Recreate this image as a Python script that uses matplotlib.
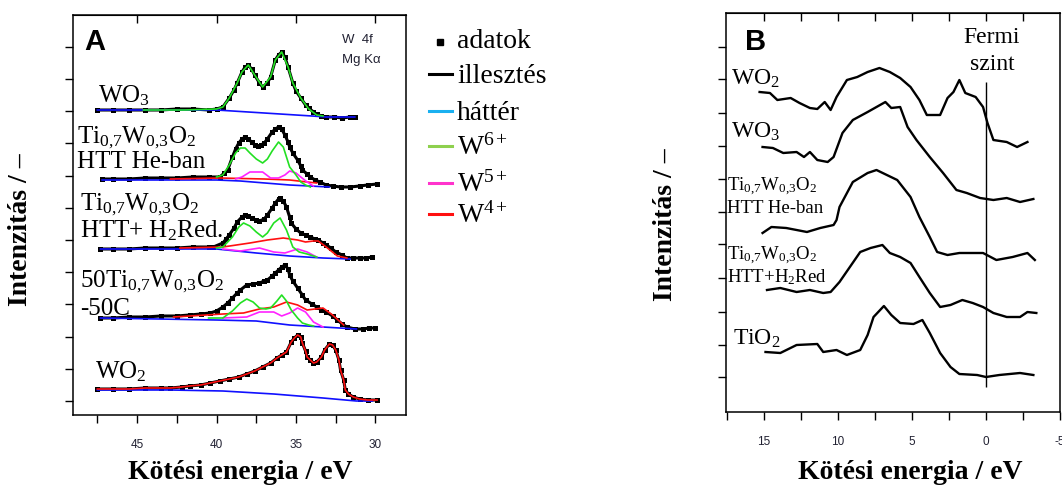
import matplotlib.pyplot as plt

plt.rcParams['font.family'] = 'Liberation Serif'
plt.rcParams['mathtext.fontset'] = 'custom'
plt.rcParams['mathtext.rm'] = 'Liberation Serif'
plt.rcParams['mathtext.it'] = 'Liberation Serif:italic'
plt.rcParams['mathtext.bf'] = 'Liberation Serif:bold'
plt.rcParams['axes.unicode_minus'] = False

# ---------------- panel A: W 4f XPS (binding energy / eV, intensity a.u.)
wo3_e = [47.5, 46.5, 45.5, 44.5, 43.5, 42.5, 41.5, 40.5, 40.0, 39.6, 39.2, 38.9, 38.7, 38.4,
         38.2, 38.0, 37.8, 37.6, 37.3, 37.1, 36.8, 36.6, 36.3, 36.1, 35.9, 35.7, 35.5, 35.2,
         35.0, 34.7, 34.4, 34.2, 33.9, 33.7, 33.4, 33.1, 32.6, 32.1, 31.6, 31.3]
wo3_h = [305, 305, 305, 305, 305, 306, 306, 305, 306, 308, 317, 325, 332, 343,
         348, 350, 346, 340, 332, 328, 332, 338, 355, 360, 363, 358, 348, 332,
         324, 317, 310, 307, 303, 301, 299, 298, 298, 297, 298, 298]
wo3_bg_e = [47.5, 40.0, 38.0, 36.0, 34.0, 33.1, 31.3]
wo3_bg_h = [305, 305, 303, 301, 299, 298, 298]
wo3_w6_e = [44.6, 42.0, 40.0, 39.6, 39.2, 38.7, 38.4, 38.0, 37.6, 37.1, 36.6, 36.3, 35.9,
            35.5, 35.2, 34.7, 34.2, 33.7, 33.3]
wo3_w6_h = [305, 305, 306, 308, 317, 332, 343, 350, 340, 328, 338, 355, 363,
            348, 332, 317, 306, 300, 299]

he_e = [47.2, 46.5, 45.5, 44.5, 43.5, 42.5, 41.5, 40.5, 39.8, 39.5, 39.3, 39.0, 38.8, 38.6,
        38.4, 38.2, 38.0, 37.8, 37.6, 37.4, 37.2, 37.0, 36.8, 36.5, 36.3, 36.1, 35.9, 35.7,
        35.5, 35.4, 35.2, 34.9, 34.7, 34.6, 34.3, 34.1, 33.8, 33.5, 33.1, 32.7, 32.2, 31.6,
        31.0, 30.5, 29.9]
he_h = [236, 236, 236, 237, 237, 237, 238, 238, 238, 242, 245, 258, 266, 272,
        276, 278, 276, 273, 270, 269, 270, 272, 276, 283, 286, 288, 286, 280,
        273, 268, 262, 255, 249, 245, 241, 238, 235, 233, 230, 229, 228, 228,
        229, 230, 231]
he_bg_e = [47.2, 40.0, 38.5, 35.4, 32.9]
he_bg_h = [235, 235, 234, 230, 228]
he_w6_e = [40.0, 39.6, 39.2, 38.8, 38.5, 38.2, 37.9, 37.5, 37.1, 36.8, 36.5, 36.1, 35.8,
           35.4, 35.0, 34.7, 34.4, 34.1]
he_w6_h = [238, 240, 250, 262, 267, 267, 262, 256, 252, 256, 264, 273, 268,
           248, 240, 233, 230, 228]
he_w5_e = [38.8, 38.4, 37.9, 37.1, 36.6, 36.1, 35.7, 35.4, 35.0, 34.7, 34.3, 33.9]
he_w5_h = [236, 238, 243, 243, 237, 237, 240, 244, 242, 238, 233, 229]
he_w4_e = [42.9, 39.8, 37.0, 35.4, 34.3, 33.7]
he_w4_h = [236, 237, 236, 235, 233, 232]

red_e = [47.3, 46.5, 45.5, 44.5, 43.5, 42.5, 41.5, 40.5, 40.2, 39.6, 39.4, 39.2, 38.9, 38.7,
         38.4, 38.2, 38.0, 37.8, 37.5, 37.3, 37.0, 36.8, 36.5, 36.3, 36.1, 36.0, 35.8, 35.6,
         35.4, 35.3, 35.0, 34.7, 34.4, 34.1, 33.8, 33.6, 33.3, 33.1, 32.8, 32.5, 32.1, 31.8,
         31.4, 31.0, 30.6, 30.2]
red_h = [166, 166, 166, 167, 167, 167, 168, 168, 168, 172, 176, 180, 187, 193,
         198, 200, 199, 197, 195, 194, 196, 200, 207, 212, 216, 217, 214, 208,
         198, 192, 186, 182, 180, 178, 176, 175, 172, 170, 167, 163, 160, 157,
         157, 157, 157, 158]
red_bg_e = [47.3, 40.0, 37.5, 35.4, 33.3, 31.6]
red_bg_h = [166, 166, 162, 159, 157, 156]
red_w6_e = [40.0, 39.6, 39.0, 38.6, 38.3, 37.9, 37.5, 37.1, 36.8, 36.4, 36.0, 35.6, 35.2,
            34.8, 34.3, 33.7]
red_w6_h = [167, 168, 178, 188, 192, 189, 183, 178, 182, 192, 197, 185, 168,
            163, 161, 158]
red_w5_e = [39.6, 38.5, 37.3, 36.4, 35.7, 34.9, 34.3, 33.7]
red_w5_h = [166, 164, 167, 163, 162, 166, 163, 158]
red_w4_e = [42.3, 39.6, 37.9, 36.8, 35.8, 34.9, 34.4, 33.9, 33.6, 33.1, 32.4, 31.8]
red_w4_h = [167, 168, 172, 175, 177, 175, 173, 174, 174, 168, 159, 157]

c50_e = [47.3, 46.5, 45.5, 44.5, 43.5, 42.5, 41.7, 41.0, 40.4, 40.0, 39.6, 39.3, 39.0, 38.7,
         38.5, 38.1, 37.7, 37.3, 37.0, 36.8, 36.5, 36.3, 36.1, 35.9, 35.7, 35.5, 35.4, 35.2,
         34.9, 34.6, 34.4, 34.0, 33.7, 33.4, 33.1, 32.7, 32.4, 32.1, 31.8, 31.3, 30.8, 30.4,
         30.0]
c50_h = [97, 97, 98, 98, 99, 99, 100, 101, 102, 104, 108, 112, 117, 122,
         125, 130, 131, 132, 134, 135, 139, 142, 145, 148, 150, 146, 140, 134,
         127, 120, 115, 111, 108, 105, 103, 99, 95, 91, 88, 86, 86, 87,
         87]
c50_bg_e = [47.3, 40.0, 37.5, 35.4, 33.3, 31.2]
c50_bg_h = [97, 95, 94, 90, 88, 86]
c50_w6_e = [40.5, 39.6, 39.0, 38.5, 38.1, 37.7, 37.3, 36.9, 36.6, 36.2, 35.9, 35.6, 35.3,
            34.9, 34.6, 34.2, 33.9]
c50_w6_h = [97, 97, 104, 112, 116, 113, 107, 106, 107, 114, 120, 114, 105,
            97, 92, 90, 89]
c50_w5_e = [39.6, 38.1, 37.3, 36.4, 35.9, 35.4, 34.9, 34.4, 33.9, 33.3]
c50_w5_h = [97, 98, 103, 103, 99, 102, 107, 103, 93, 88]
c50_w4_e = [42.7, 39.6, 38.3, 37.3, 36.4, 35.6, 34.9, 34.3, 33.8, 33.3, 32.7, 32.0]
c50_w4_h = [98, 101, 102, 106, 108, 113, 110, 105, 106, 107, 100, 90]

wo2_e = [47.5, 46.5, 45.5, 44.5, 43.5, 42.9, 42.2, 41.7, 41.0, 40.4, 39.8, 39.2, 38.6, 38.1,
         37.6, 37.1, 36.6, 36.2, 35.9, 35.6, 35.3, 35.1, 34.9, 34.7, 34.6, 34.4, 34.3, 34.1,
         33.9, 33.7, 33.4, 33.2, 32.9, 32.7, 32.5, 32.3, 32.2, 32.0, 31.9, 31.7, 31.4, 31.0,
         30.5, 29.9]
wo2_h = [26, 26, 26, 27, 27, 27, 28, 29, 30, 32, 34, 36, 38, 41,
         44, 48, 52, 57, 60, 63, 73, 77, 80, 78, 72, 64, 58, 55,
         52, 53, 58, 65, 71, 70, 65, 55, 45, 35, 25, 21, 18, 16,
         15, 15]
wo2_bg_e = [47.5, 42.9, 39.6, 36.4, 33.3, 31.2, 30.2]
wo2_bg_h = [25, 25, 24, 21, 17, 14, 14]

# ---------------- panel B: valence band spectra
b_wo2_e = [15.3, 14.6, 14.1, 13.2, 12.6, 11.9, 11.4, 10.9, 10.5, 10.1, 9.4, 8.7, 8.0, 7.2,
           6.5, 5.8, 5.1, 4.5, 4.0, 3.1, 2.6, 2.2, 1.8, 1.4, 0.7, 0.2, -0.1, -0.5, -1.4,
           -2.1, -2.8]
b_wo2_h = [320, 319, 312, 314, 309, 304, 303, 310, 302, 315, 332, 335, 340, 344,
           340, 334, 325, 312, 297, 297, 314, 320, 332, 319, 315, 305, 289, 272, 270,
           265, 270]
b_wo3_e = [15.1, 14.4, 13.7, 12.8, 12.3, 11.9, 11.4, 10.7, 10.3, 9.7, 9.0, 8.0, 7.4, 6.8,
           6.4, 5.8, 5.3, 4.7, 3.8, 2.9, 2.0, 1.3, 0.4, -0.5, -1.4, -2.3, -3.2]
b_wo3_h = [265, 264, 259, 260, 255, 260, 252, 250, 255, 279, 292, 300, 305, 310,
           304, 305, 285, 272, 255, 239, 222, 219, 214, 212, 214, 210, 213]
b_he_e = [15.1, 14.5, 13.5, 12.1, 11.2, 10.3, 10.1, 9.9, 9.0, 8.0, 7.4, 6.7, 6.0, 5.1,
          4.5, 3.8, 3.3, 2.6, 1.8, 0.2, -0.7, -1.8, -2.8, -3.3]
b_he_h = [179, 185, 184, 180, 184, 187, 192, 205, 230, 239, 242, 237, 232, 215,
          195, 175, 160, 157, 159, 159, 152, 155, 159, 152]
b_h2_e = [14.8, 13.9, 12.8, 11.9, 11.0, 10.5, 9.9, 9.2, 8.5, 7.8, 7.0, 6.5, 5.8, 5.1,
          4.5, 3.8, 3.1, 2.4, 1.6, 0.9, 0.2, -0.5, -1.4, -2.3, -2.8, -3.4]
b_h2_h = [122, 124, 120, 122, 119, 120, 130, 145, 160, 164, 167, 159, 155, 149,
          135, 119, 105, 107, 112, 109, 105, 99, 95, 95, 100, 99]
b_tio2_e = [14.9, 13.9, 12.8, 11.4, 11.0, 10.1, 9.4, 8.5, 8.0, 7.6, 6.9, 6.4, 5.8, 4.9,
            4.3, 3.8, 3.1, 2.4, 1.8, 0.6, 0.0, -0.9, -2.3, -3.2]
b_tio2_h = [60, 59, 67, 68, 60, 62, 57, 62, 77, 95, 106, 97, 89, 88,
            92, 79, 59, 45, 38, 37, 35, 37, 39, 37]
fermi_e = 0.0
fermi_span = [25, 330]

W, H = 1062, 487


def fx(x):
    return x / W


def fy(y):
    return 1 - y / H


fig = plt.figure(figsize=(10.62, 4.87), dpi=100)
axA = fig.add_axes([fx(73), fy(415), (406 - 73) / W, 400 / H])
axB = fig.add_axes([fx(726), fy(412), (1060 - 726) / W, 399 / H])

BLUE = '#1010ff'
GREEN = '#22e022'
MAG = '#ff22ff'
RED = '#ff1010'


def data(ax, e, h):
    ax.plot(e, h, color='black', lw=2.2, marker='s', ms=3.6, mew=0, zorder=3)


def comp(ax, e, h, c):
    ax.plot(e, h, color=c, lw=1.2, zorder=4)


data(axA, wo3_e, wo3_h)
comp(axA, wo3_bg_e, wo3_bg_h, BLUE)
comp(axA, wo3_w6_e, wo3_w6_h, GREEN)

data(axA, he_e, he_h)
comp(axA, he_bg_e, he_bg_h, BLUE)
comp(axA, he_w4_e, he_w4_h, RED)
comp(axA, he_w5_e, he_w5_h, MAG)
comp(axA, he_w6_e, he_w6_h, GREEN)

data(axA, red_e, red_h)
comp(axA, red_bg_e, red_bg_h, BLUE)
comp(axA, red_w4_e, red_w4_h, RED)
comp(axA, red_w5_e, red_w5_h, MAG)
comp(axA, red_w6_e, red_w6_h, GREEN)

data(axA, c50_e, c50_h)
comp(axA, c50_bg_e, c50_bg_h, BLUE)
comp(axA, c50_w4_e, c50_w4_h, RED)
comp(axA, c50_w5_e, c50_w5_h, MAG)
comp(axA, c50_w6_e, c50_w6_h, GREEN)

data(axA, wo2_e, wo2_h)
comp(axA, wo2_bg_e, wo2_bg_h, BLUE)
comp(axA, wo2_e, wo2_h, RED)

for e, h in [(b_wo2_e, b_wo2_h), (b_wo3_e, b_wo3_h), (b_he_e, b_he_h),
             (b_h2_e, b_h2_h), (b_tio2_e, b_tio2_h)]:
    axB.plot(e, h, color='black', lw=1.7)
axB.vlines(fermi_e, fermi_span[0], fermi_span[1], color='black', lw=1)

# axes styling
axA.set_xlim(49.03, 28.08)
axA.set_ylim(0, 400)
axB.set_xlim(17.57, -5.0)
axB.set_ylim(0, 399)

axA.set_xticks([45, 40, 35, 30])
axA.set_xticks([47.5, 42.5, 37.5, 32.5], minor=True)
axA.set_yticks([14, 46, 78, 111, 143, 175, 207, 239, 272, 304, 336, 368])
axB.set_xticks([15, 10, 5, 0, -5])
axB.set_xticks([17.5, 12.5, 7.5, 2.5, -2.5], minor=True)
axB.set_yticks([35, 67, 100, 134, 168, 200, 233, 266, 299, 333, 365])

for ax, top_ticks in [(axA, [45, 40, 35, 30]),
                      (axB, [15, 12.5, 10, 7.5, 5, 2.5, 0, -2.5])]:
    ax.set_yticklabels([])
    ax.tick_params(axis='x', which='both', direction='out', length=6, width=1,
                   pad=11, labelsize=8.5, labelcolor='#222233')
    ax.tick_params(axis='y', which='both', direction='out', length=6, width=1)
    for lab in ax.get_xticklabels():
        lab.set_family('Liberation Sans')
    for s in ax.spines.values():
        s.set_linewidth(1.1)
    sec = ax.secondary_xaxis('top')
    sec.set_xticks(top_ticks)
    sec.set_xticklabels([])
    sec.tick_params(direction='in', length=6, width=1)

# labels panel A
TIW = 'Ti$_{0{,}7}$W$_{0{,}3}$O$_2$'
axA.text(47.45, 313, 'WO$_3$', fontsize=18)
axA.text(48.77, 272, TIW, fontsize=18)
axA.text(48.77, 247, 'HTT He-ban', fontsize=18)
axA.text(48.58, 205, TIW, fontsize=18)
axA.text(48.58, 178, 'HTT+ H$_2$Red.', fontsize=18)
axA.text(48.58, 128, '50' + TIW, fontsize=18)
axA.text(48.58, 100, '-50C', fontsize=18)
axA.text(47.64, 37, 'WO$_2$', fontsize=18)
fig.text(fx(95), fy(42), 'A', fontsize=21, fontweight='bold', family='Liberation Sans',
         ha='center', va='center')
fig.text(fx(342), fy(43), 'W  4f', fontsize=9.5, family='Liberation Sans', color='#222233')
fig.text(fx(342), fy(63), 'Mg K\u03b1', fontsize=9.5, family='Liberation Sans', color='#222233')

# labels panel B
axB.text(17.2, 327, 'WO$_2$', fontsize=17)
axB.text(17.2, 274, 'WO$_3$', fontsize=17)
axB.text(17.5, 221, TIW, fontsize=13.5)
axB.text(17.5, 199, 'HTT He-ban', fontsize=13.5)
axB.text(17.5, 152, TIW, fontsize=13.5)
axB.text(17.5, 130, 'HTT+H$_2$Red', fontsize=13.5)
axB.text(17.1, 67, 'TiO$_2$', fontsize=17)
fig.text(fx(992), fy(43), 'Fermi', fontsize=17, ha='center')
fig.text(fx(992), fy(70), 'szint', fontsize=17, ha='center')
fig.text(fx(756), fy(42), 'B', fontsize=21, fontweight='bold', family='Liberation Sans',
         ha='center', va='center')

# legend (between the panels)
legend_rows = [('adatok', 'black', 48), ('illesztés', 'black', 83),
               ('háttér', '#1ab0f0', 120), ('W$^{6+}$', '#8ed04e', 155),
               ('W$^{5+}$', '#ff33cc', 192), ('W$^{4+}$', '#ff1010', 223)]
for i, (txt, col, base) in enumerate(legend_rows):
    if i == 0:
        fig.lines.append(plt.Line2D([fx(440)], [fy(base - 6)], marker='s', ms=4.5,
                                    color='black', lw=0, transform=fig.transFigure))
    else:
        fig.lines.append(plt.Line2D([fx(429), fx(452)], [fy(base - 9), fy(base - 9)],
                                    color=col, lw=2.2, transform=fig.transFigure))
    fig.text(fx(457), fy(base), txt, fontsize=20)

# axis titles
for x, y in [(21, 230), (666, 225)]:
    fig.text(fx(x), fy(y), 'Intenzitás / –', rotation=90, ha='center', va='center',
             fontsize=20, fontweight='bold')
fig.text(fx(240), fy(479), 'Kötési energia / eV', ha='center', fontsize=20, fontweight='bold')
fig.text(fx(910), fy(479), 'Kötési energia / eV', ha='center', fontsize=20, fontweight='bold')

fig.savefig('out.png', dpi=100)
